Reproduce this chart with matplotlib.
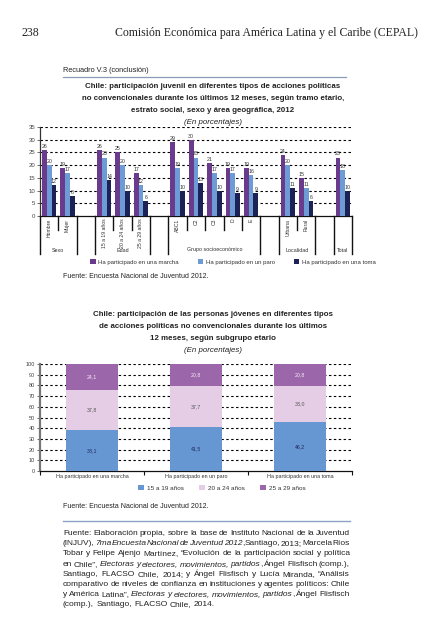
import matplotlib
matplotlib.use("Agg")
import matplotlib.pyplot as plt
import matplotlib.transforms as mtransforms
import numpy as np

W, H = 425, 640
plt.rcParams['font.family'] = ['Liberation Sans', 'DejaVu Sans']

# ---------------- data ----------------
groups = ["Sexo", "Edad", "Grupo socioeconómico", "Localidad", "Total"]
group_cats = [["Hombre", "Mujer"],
              ["15 a 19 años", "20 a 24 años", "25 a 29 años"],
              ["ABC1", "C2", "C3", "D", "E"],
              ["Urbana", "Rural"],
              [""]]
series1 = ["Ha participado en una marcha", "Ha participado en un paro",
           "Ha participado en una toma"]
marcha = [26, 19, 26, 25, 17, 29, 30, 21, 19, 19, 24, 15, 23]
paro = [20, 17, 23, 20, 12, 19, 23, 17, 17, 16, 20, 11, 18]
toma = [12, 8, 14, 10, 6, 10, 13, 10, 9, 9, 11, 6, 10]
yticks1 = [0, 5, 10, 15, 20, 25, 30, 35]

acciones = ["Ha participado en una marcha", "Ha participado en un paro",
            "Ha participado en una toma"]
edades = ["15 a 19 años", "20 a 24 años", "25 a 29 años"]
edad_15_19 = [38.1, 41.5, 46.2]
edad_20_24 = [37.8, 37.7, 33.0]
edad_25_29 = [24.1, 20.8, 20.8]
yticks2 = [0, 10, 20, 30, 40, 50, 60, 70, 80, 90, 100]

title1 = ["Chile: participación juvenil en diferentes tipos de acciones políticas",
          "no convencionales durante los últimos 12 meses, según tramo etario,",
          "estrato social, sexo y área geográfica, 2012"]
title2 = ["Chile: participación de las personas jóvenes en diferentes tipos",
          "de acciones políticas no convencionales durante los últimos",
          "12 meses, según subgrupo etario"]
fuente_lines = [
    "Fuente: Elaboración propia, sobre la base de Instituto Nacional de la Juventud",
    "(INJUV), *7ma Encuesta Nacional de Juventud 2012*, Santiago, 2013; Marcela Ríos",
    "Tobar y Felipe Ajenjo Martínez, “Evolución de la participación social y política",
    "en Chile”, *Electoras y electores, movimientos, partidos*, Ángel Flisfisch (comp.),",
    "Santiago, FLACSO Chile, 2014; y Ángel Flisfisch y Lucía Miranda, “Análisis",
    "comparativo de niveles de confianza en instituciones y agentes políticos: Chile",
    "y América Latina”, *Electoras y electores, movimientos, partidos*, Ángel Flisfisch",
    "(comp.), Santiago, FLACSO Chile, 2014.",
]

# ---------------- helpers ----------------
def fx(p):
    return p / W

def fy(p):
    return 1 - p / H

fig = plt.figure(figsize=(W / 100, H / 100), dpi=100)
fig.patch.set_facecolor('white')

C_MARCHA = '#6a3a8c'
C_PARO = '#6d9bd6'
C_TOMA = '#1c2256'
TXT = '#222222'
TITLE_FS = 5.7

# ---------------- page header ----------------
fig.text(fx(22), fy(33), "238", family='Liberation Serif', fontsize=8.5,
         va='center', ha='left', color=TXT)
fig.text(fx(418), fy(33), "Comisión Económica para América Latina y el Caribe (CEPAL)",
         family='Liberation Serif', fontsize=8.5, va='center', ha='right', color=TXT)
fig.text(fx(63), fy(70), "Recuadro V.3 (conclusión)", fontsize=5.3, va='center',
         ha='left', color=TXT)
fig.add_artist(plt.Line2D([fx(63), fx(346)], [fy(77), fy(77)], color='#8a9bb8', lw=0.9))

for i, t in enumerate(title1):
    fig.text(fx(213), fy(87 + 12 * i), t, fontsize=TITLE_FS, fontweight='bold',
             ha='center', va='center', color=TXT)
fig.text(fx(213), fy(122), "(En porcentajes)", fontsize=TITLE_FS, style='italic',
         ha='center', va='center', color=TXT)

# ---------------- chart 1 ----------------
x0, x1, ytop, ybot = 40, 352, 127, 216
ax1 = fig.add_axes([fx(x0), fy(ybot), (x1 - x0) / W, (ybot - ytop) / H])

positions = []
pos = 0
group_spans = []
for gi, cats in enumerate(group_cats):
    start = pos
    for c in cats:
        positions.append(pos)
        pos += 1
    group_spans.append((start, pos))
    if gi < len(group_cats) - 1:
        pos += 1  # blank slot
nslots = pos
positions = np.array(positions, dtype=float)
labels = [c for cats in group_cats for c in cats]

bw = 0.26
for k, (vals, col) in enumerate(zip([marcha, paro, toma], [C_MARCHA, C_PARO, C_TOMA])):
    xs = positions + (k - 1) * bw
    ax1.bar(xs, vals, width=bw, color=col, label=series1[k], zorder=3)
    for xv, v in zip(xs, vals):
        ax1.text(xv, v + 0.4, f"{v}", fontsize=3.8, ha='center', va='bottom',
                 color='#333333', zorder=4)

ax1.set_xlim(-0.5, nslots - 0.5)
ax1.set_ylim(0, 35)
ax1.set_yticks(yticks1)
ax1.set_yticklabels([str(v) for v in yticks1], fontsize=4.3, color='#444444')
ax1.tick_params(axis='y', length=2, width=0.6, pad=1.5, color='#555555')
ax1.set_xticks([])
for v in yticks1[1:]:
    ax1.axhline(v, color='black', lw=0.8, ls=(0, (2.2, 2.2)), zorder=1)
for s in ['top', 'right']:
    ax1.spines[s].set_visible(False)
ax1.spines['left'].set_color('#333333')
ax1.spines['left'].set_linewidth(0.9)
ax1.spines['bottom'].set_color('#111111')
ax1.spines['bottom'].set_linewidth(0.9)

trans = mtransforms.blended_transform_factory(ax1.transData, ax1.transAxes)
hpx = ybot - ytop
short_y = -(14 / hpx)
long_y = -(38 / hpx)
group_label_y = -(34 / hpx)

for p, lab in zip(positions, labels):
    if lab:
        ax1.text(p, -0.03, lab, rotation=90, fontsize=3.7, ha='center', va='top',
                 transform=trans, color='#333333')

long_bounds = set()
for (s, e) in group_spans:
    long_bounds.add(s - 0.5)
    long_bounds.add(e - 0.5)
    long_bounds.add(e + 0.5)
long_bounds = {b for b in long_bounds if b <= nslots - 0.5}
short_bounds = set()
for (s, e) in group_spans:
    for b in range(s, e - 1):
        short_bounds.add(b + 0.5)
for b in sorted(long_bounds):
    ax1.plot([b, b], [0, long_y], transform=trans, color='#111111', lw=1.0,
             clip_on=False)
for b in sorted(short_bounds):
    ax1.plot([b, b], [0, short_y], transform=trans, color='#111111', lw=1.0,
             clip_on=False)
for g, (s, e) in zip(groups, group_spans):
    ax1.text((s + e - 1) / 2, group_label_y, g, fontsize=3.9, ha='center',
             va='center', transform=trans, color='#333333')

h, l = ax1.get_legend_handles_labels()
fig.legend(h, l, loc='center', ncol=3, bbox_to_anchor=(fx(233), fy(262)),
           frameon=False, fontsize=4.3, handlelength=0.9, handleheight=0.9,
           handletextpad=0.4, columnspacing=3.2, labelcolor='#333333')

fig.text(fx(63), fy(277), "Fuente: Encuesta Nacional de Juventud 2012.",
         fontsize=5.0, ha='left', va='center', color=TXT)

# ---------------- chart 2 ----------------
for i, t in enumerate(title2):
    fig.text(fx(213), fy(315 + 12 * i), t, fontsize=TITLE_FS, fontweight='bold',
             ha='center', va='center', color=TXT)
fig.text(fx(213), fy(350), "(En porcentajes)", fontsize=TITLE_FS, style='italic',
         ha='center', va='center', color=TXT)

c0, c1, ctop, cbot = 40, 352, 364, 471
ax2 = fig.add_axes([fx(c0), fy(cbot), (c1 - c0) / W, (cbot - ctop) / H])
xs2 = np.arange(len(acciones))
bw2 = 0.5
cols2 = ['#6797d3', '#e6cde6', '#9c66ab']
txtcols2 = ['#1d2a5c', '#555555', '#f6eaf6']
bottom = np.zeros(len(acciones))
for vals, col, tc, name in zip([edad_15_19, edad_20_24, edad_25_29], cols2, txtcols2, edades):
    vals = np.array(vals)
    ax2.bar(xs2, vals, width=bw2, bottom=bottom, color=col, label=name, zorder=3)
    for xv, b, v in zip(xs2, bottom, vals):
        ax2.text(xv, b + v / 2, f"{v:.1f}".replace('.', ','), fontsize=3.8,
                 ha='center', va='center', color=tc, zorder=4)
    bottom = bottom + vals

ax2.set_xlim(-0.5, len(acciones) - 0.5)
ax2.set_ylim(0, 100)
ax2.set_yticks(yticks2)
ax2.set_yticklabels([str(v) for v in yticks2], fontsize=4.0, color='#444444')
ax2.tick_params(axis='y', length=2, width=0.6, pad=1.5, color='#555555')
ax2.set_xticks(xs2)
ax2.set_xticklabels(acciones, fontsize=3.9, color='#333333')
ax2.tick_params(axis='x', length=0, pad=2.5)
ax2.set_xticks([-0.5, 0.5, 1.5, 2.5], minor=True)
ax2.tick_params(axis='x', which='minor', length=3, width=0.8, color='#111111')
for v in yticks2[1:]:
    ax2.axhline(v, color='black', lw=0.8, ls=(0, (2.2, 2.2)), zorder=1)
for s in ['top', 'right']:
    ax2.spines[s].set_visible(False)
ax2.spines['left'].set_color('#777777')
ax2.spines['left'].set_linewidth(1.6)
ax2.spines['bottom'].set_color('#111111')
ax2.spines['bottom'].set_linewidth(0.9)

h2, l2 = ax2.get_legend_handles_labels()
fig.legend(h2, l2, loc='center', ncol=3, bbox_to_anchor=(fx(222), fy(488)),
           frameon=False, fontsize=4.6, handlelength=0.9, handleheight=0.9,
           handletextpad=0.5, columnspacing=2.4, labelcolor='#333333')

fig.text(fx(63), fy(506), "Fuente: Encuesta Nacional de Juventud 2012.",
         fontsize=5.0, ha='left', va='center', color=TXT)
fig.add_artist(plt.Line2D([fx(63), fx(350)], [fy(521), fy(521)], color='#8ea2c6', lw=1.0))

# ---------------- justified source paragraph ----------------
renderer = fig.canvas.get_renderer()
PX0, PX1, PY0, PDY, PFS = 63, 350, 535, 10.2, 6.0
italic = False
space_t = fig.text(0, 0, "a a", fontsize=PFS)
aa_t = fig.text(0, 0, "aa", fontsize=PFS)
space_w = space_t.get_window_extent(renderer).width - aa_t.get_window_extent(renderer).width
space_t.remove()
aa_t.remove()
for li, line in enumerate(fuente_lines):
    words = []
    for w in line.split(' '):
        pieces = []
        parts = w.split('*')
        for j, ptxt in enumerate(parts):
            if j > 0:
                italic = not italic
            if ptxt:
                pieces.append((ptxt, italic))
        words.append(pieces)
    word_artists = []
    word_widths = []
    for pieces in words:
        arts = []
        wsum = 0
        for ptxt, it in pieces:
            t = fig.text(0, 0, ptxt, fontsize=PFS, style='italic' if it else 'normal',
                         color=TXT, va='baseline', ha='left')
            pw = t.get_window_extent(renderer).width
            arts.append((t, pw))
            wsum += pw
        word_artists.append(arts)
        word_widths.append(wsum)
    last = li == len(fuente_lines) - 1
    total = sum(word_widths)
    gap = space_w if last or len(words) < 2 else (PX1 - PX0 - total) / (len(words) - 1)
    x = PX0
    ybase = PY0 + li * PDY
    for arts, ww in zip(word_artists, word_widths):
        xx = x
        for t, pw in arts:
            t.set_position((fx(xx), fy(ybase)))
            xx += pw
        x += ww + gap

fig.savefig("out.png", dpi=100, facecolor='white')
